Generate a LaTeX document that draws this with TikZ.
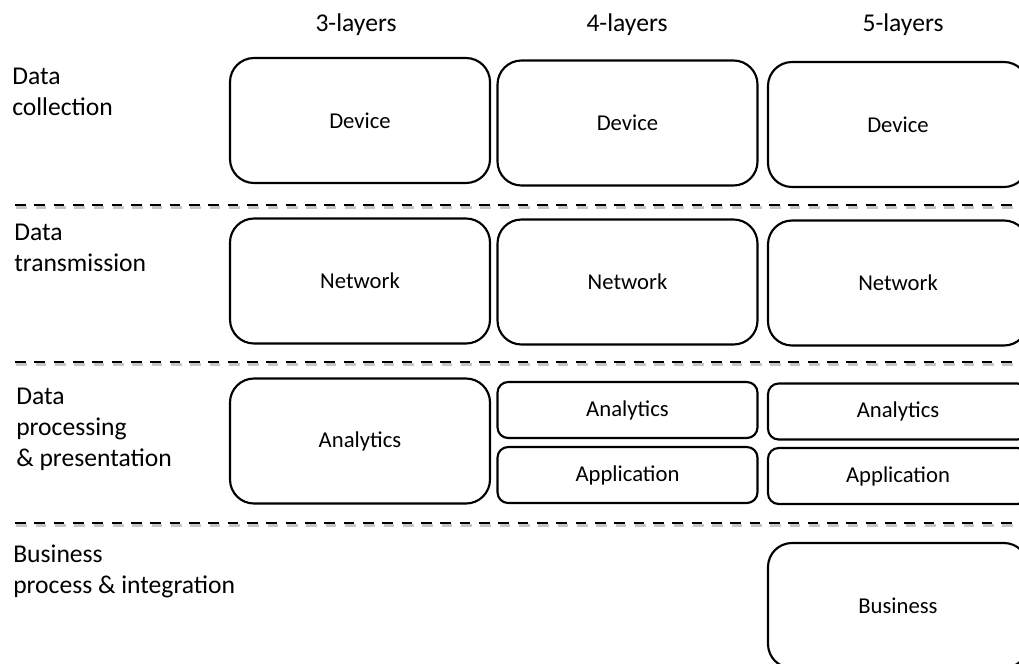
\documentclass[tikz,border=0pt]{standalone}
\usepackage{fontspec}
\setmainfont{Carlito}
\begin{document}
\begin{tikzpicture}[x=0.75pt, y=-0.75pt,
	layerbox/.style={shape=rectangle, rounded corners=18pt, draw, line width=1.6pt, minimum width=195pt, minimum height=93.75pt, inner sep=0pt, font=\fontsize{17}{20}\selectfont},
	slimbox/.style={layerbox, rounded corners=8pt, minimum height=42pt},
	rowlabel/.style={anchor=base west, align=left, inner sep=0pt, font=\fontsize{19.2}{23.25}\selectfont},
	colhead/.style={anchor=base, inner sep=0pt, font=\fontsize{19.2}{23.25}\selectfont},
	sepline/.style={line width=1.8pt, dash pattern=on 8pt off 6.5pt, preaction={draw=black!22, line width=1.8pt, dash pattern=on 8pt off 6.5pt, transform canvas={shift={(1pt,-1.8pt)}}}}]
	\useasboundingbox (0,0) rectangle (1019,663);
	
	% column headings
	\node (h1)[colhead] at (356,32){3-layers};
	\node (h2)[colhead] at (627,32){4-layers};
	\node (h3)[colhead] at (903,32){5-layers};
	
	% row labels (placed at the baseline of their last line)
	\node (r1)[rowlabel] at (12,116){
		Data \\ collection
	};
	\node (r2)[rowlabel] at (14,271){
		Data \\ transmission
	};
	\node (r3)[rowlabel] at (16,466){
		Data \\ processing \\ \& presentation
	};
	\node (r4)[rowlabel] at (13,593){
		Business \\ process \& integration
	};
	
	% separators
	\coordinate (s1a) at (15,205);
	\coordinate (s1b) at (1019,205);
	\coordinate (s2a) at (15,362);
	\coordinate (s2b) at (1019,362);
	\coordinate (s3a) at (15,523);
	\coordinate (s3b) at (1019,523);
	\draw[sepline] (s1a) -- (s1b);
	\draw[sepline] (s2a) -- (s2b);
	\draw[sepline] (s3a) -- (s3b);
	
	% data collection
	\node (d1)[layerbox] at (360,120.5){Device};
	\node (d2)[layerbox] at (627.5,123){Device};
	\node (d3)[layerbox] at (898,124.5){Device};
	
	% data transmission
	\node (n1)[layerbox] at (360,281){Network};
	\node (n2)[layerbox] at (627.5,282){Network};
	\node (n3)[layerbox] at (898,283){Network};
	
	% data processing & presentation
	\node (a1)[layerbox] at (360,441){Analytics};
	\node (a2)[slimbox] at (627.5,410){Analytics};
	\node (p2)[slimbox] at (627.5,475){Application};
	\node (a3)[slimbox] at (898,411.5){Analytics};
	\node (p3)[slimbox] at (898,476){Application};
	
	% business process & integration
	\node (b3)[layerbox] at (898,605.5){Business};
\end{tikzpicture}
\end{document}
